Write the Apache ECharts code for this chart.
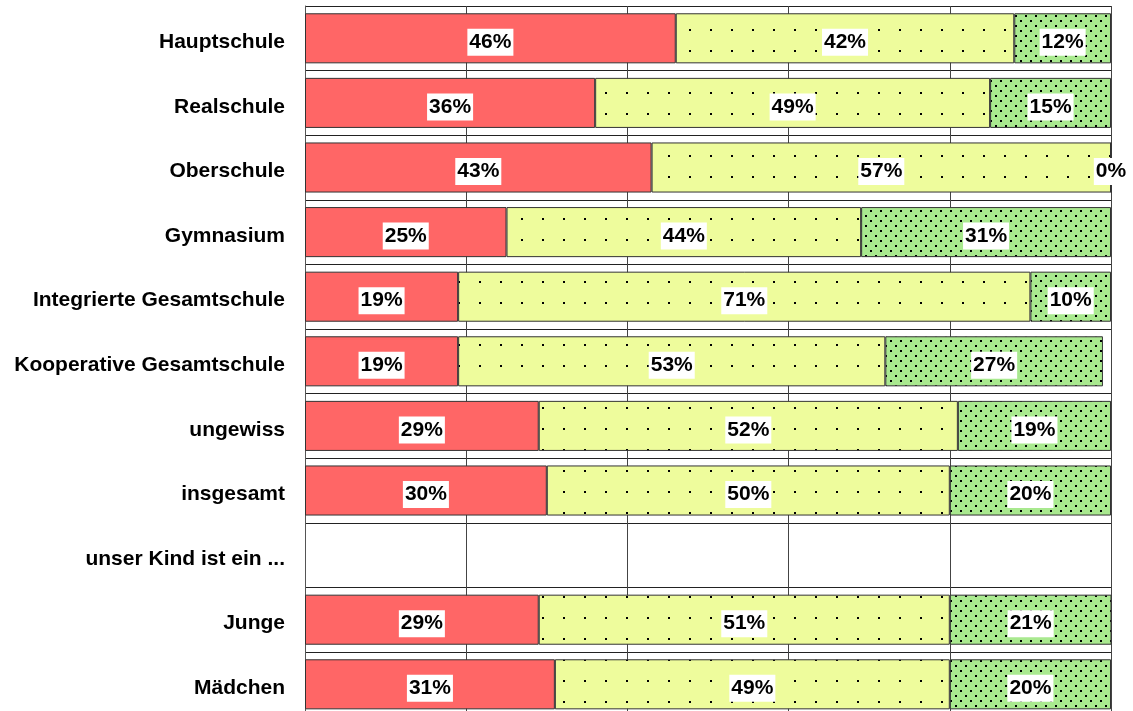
<!DOCTYPE html>
<html>
<head>
<meta charset="utf-8">
<script src="https://cdn.jsdelivr.net/npm/echarts@6/dist/echarts.min.js"></script>
<style>
  html, body { margin: 0; padding: 0; background: #fff; }
  #chart { width: 1133px; height: 711px; }
</style>
</head>
<body>
<div id="chart"></div>
<script>
// Schulform-Kategorien (von oben nach unten)
const categories = [
  'Hauptschule', 'Realschule', 'Oberschule', 'Gymnasium',
  'Integrierte Gesamtschule', 'Kooperative Gesamtschule',
  'ungewiss', 'insgesamt', 'unser Kind ist ein ...', 'Junge', 'Mädchen'
];

// Anteile in Prozent je Antwortgruppe
const redValues    = [46, 36, 43, 25, 19, 19, 29, 30, null, 29, 31];
const yellowValues = [42, 49, 57, 44, 71, 53, 52, 50, null, 51, 49];
const greenValues  = [12, 15, 0, 31, 10, 27, 19, 20, null, 21, 20];

// Achsenteilung
const axisMax = 100;
const axisStep = 20;

// Punktraster als Füllmuster
function makePattern(size, bg, dots, dotSize) {
  const c = document.createElement('canvas');
  c.width = size[0];
  c.height = size[1];
  const ctx = c.getContext('2d');
  ctx.fillStyle = bg;
  ctx.fillRect(0, 0, c.width, c.height);
  ctx.fillStyle = '#000';
  dots.forEach(function (d) { ctx.fillRect(d[0], d[1], dotSize, dotSize); });
  return { image: c, repeat: 'repeat' };
}

const redFill = '#FF6666';
const yellowFill = makePattern([21, 21], '#EEFC9C', [[17, 8]], 2);
const greenFill = makePattern([10, 10], '#A9E98F', [[0, 0], [5, 5]], 2);

const FONT = '"Liberation Sans", Arial, sans-serif';

const labelStyle = {
  show: true,
  position: 'inside',
  offset: [0, 4],
  formatter: function (p) { return p.value == null ? '' : p.value + '%'; },
  color: '#000',
  fontFamily: FONT,
  fontWeight: 'bold',
  fontSize: 21,
  backgroundColor: '#fff',
  padding: [4, 2, 2, 2]
};

function barSeries(name, values, fill) {
  return {
    name: name,
    type: 'bar',
    stack: 'gesamt',
    barWidth: '77.5%',
    data: values,
    itemStyle: { color: fill, borderColor: '#333', borderWidth: 1 },
    label: labelStyle,
    emphasis: { disabled: true },
    animation: false
  };
}

const chart = echarts.init(document.getElementById('chart'), null, { renderer: 'canvas' });
chart.setOption({
  backgroundColor: '#fff',
  animation: false,
  grid: {
    left: 305, width: 806, top: 6, height: 710.6,
    containLabel: false,
    outerBoundsMode: 'none'
  },
  xAxis: {
    type: 'value',
    min: 0,
    max: axisMax,
    interval: axisStep,
    axisLabel: { show: false },
    axisTick: { show: false },
    axisLine: { show: false },
    splitLine: { show: true, lineStyle: { color: '#444', width: 1 } }
  },
  yAxis: {
    type: 'category',
    inverse: true,
    data: categories,
    axisTick: { show: false },
    axisLine: { show: true, lineStyle: { color: '#555', width: 1 } },
    axisLabel: {
      color: '#000',
      fontFamily: FONT,
      fontWeight: 'bold',
      fontSize: 21,
      margin: 20,
      verticalAlign: 'top',
      lineHeight: 8
    },
    splitLine: { show: true, lineStyle: { color: '#222', width: 1 } }
  },
  series: [
    barSeries('Antwort 1', redValues, redFill),
    barSeries('Antwort 2', yellowValues, yellowFill),
    barSeries('Antwort 3', greenValues, greenFill)
  ]
});
</script>
</body>
</html>
